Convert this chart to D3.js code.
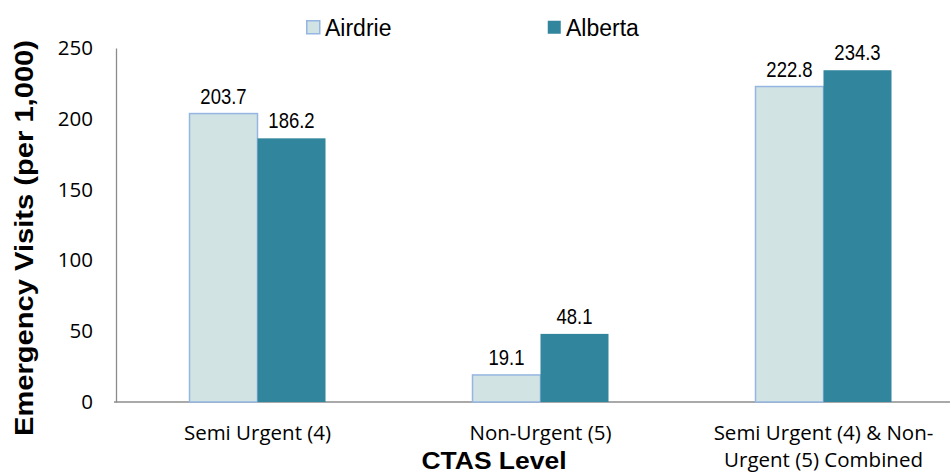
<!DOCTYPE html>
<html>
<head>
<meta charset="utf-8">
<script src="https://cdn.jsdelivr.net/npm/d3@7"></script>
<style>
  body { margin: 0; background: #fff; }
  svg { display: block; }
</style>
</head>
<body>
<div id="chart"></div>
<script>
  // chart values
  var categories = [
    ['Semi Urgent (4)'],
    ['Non-Urgent (5)'],
    ['Semi Urgent (4) & Non-', 'Urgent (5) Combined']
  ];
  var seriesNames = ['Airdrie', 'Alberta'];
  var airdrie = [203.7, 19.1, 222.8];
  var alberta = [186.2, 48.1, 234.3];
  var yTicks = [0, 50, 100, 150, 200, 250];

  var colors = { Airdrie: '#d1e3e2', Alberta: '#31859c' };
  var strokes = { Airdrie: '#95b6e2', Alberta: '#31859c' };

  var width = 950, height = 473;
  var margin = { left: 116, top: 48, bottom: 71 };

  var svg = d3.select('#chart').append('svg')
    .attr('width', width)
    .attr('height', height);

  var x0 = d3.scaleBand()
    .domain(d3.range(categories.length))
    .range([margin.left, margin.left + 283 * 3]);

  var x1 = d3.scaleBand()
    .domain(seriesNames)
    .range([0, 136]);

  var y = d3.scaleLinear()
    .domain([0, 250])
    .range([height - margin.bottom, margin.top]);

  var rows = categories.map(function (c, i) {
    return { i: i, values: [
      { key: 'Airdrie', value: airdrie[i] },
      { key: 'Alberta', value: alberta[i] }
    ] };
  });

  // y axis
  var yAxis = svg.append('g')
    .attr('transform', 'translate(' + margin.left + ',0)')
    .call(d3.axisLeft(y).tickValues(yTicks).tickSize(0).tickPadding(23));
  yAxis.select('.domain').attr('stroke', '#8c8c8c').attr('stroke-width', 1.3);
  yAxis.selectAll('text')
    .style('font-family', '"Open Sans", sans-serif')
    .style('font-size', '20.5px')
    .attr('fill', '#000');

  // x axis line
  svg.append('line')
    .attr('x1', margin.left - 2).attr('x2', width)
    .attr('y1', y(0)).attr('y2', y(0))
    .attr('stroke', '#8c8c8c').attr('stroke-width', 1.3);

  // bars
  var groups = svg.selectAll('.cat')
    .data(rows)
    .enter().append('g')
    .attr('transform', function (d) {
      return 'translate(' + (x0(d.i) + x0.bandwidth() / 2 - 68) + ',0)';
    });

  groups.selectAll('rect')
    .data(function (d) { return d.values; })
    .enter().append('rect')
    .attr('x', function (d) { return x1(d.key); })
    .attr('width', x1.bandwidth())
    .attr('y', function (d) { return y(d.value); })
    .attr('height', function (d) { return y(0) - y(d.value); })
    .attr('fill', function (d) { return colors[d.key]; })
    .attr('stroke', function (d) { return strokes[d.key]; })
    .attr('stroke-width', function (d) { return d.key === 'Airdrie' ? 1.5 : 0; });

  groups.selectAll('.lbl')
    .data(function (d) { return d.values; })
    .enter().append('text')
    .attr('transform', function (d) {
      return 'translate(' + (x1(d.key) + x1.bandwidth() / 2) + ',' + (y(d.value) - 10) + ') scale(1,1.15)';
    })
    .attr('text-anchor', 'middle')
    .style('font-family', '"Liberation Sans", Arial, sans-serif')
    .style('font-size', '18.5px')
    .text(function (d) { return d.value.toFixed(1); });

  // category labels
  svg.selectAll('.catlbl')
    .data(rows)
    .enter().append('text')
    .attr('x', function (d) { return x0(d.i) + x0.bandwidth() / 2; })
    .attr('y', 440)
    .attr('text-anchor', 'middle')
    .style('font-family', '"Open Sans", sans-serif')
    .style('font-size', '20.5px')
    .each(function (d) {
      var t = d3.select(this);
      categories[d.i].forEach(function (line, k) {
        t.append('tspan')
          .attr('x', x0(d.i) + x0.bandwidth() / 2)
          .attr('dy', k === 0 ? 0 : 27)
          .text(line);
      });
    });

  // axis titles
  svg.append('text')
    .attr('x', 494).attr('y', 469)
    .attr('text-anchor', 'middle')
    .attr('textLength', 145)
    .attr('lengthAdjust', 'spacingAndGlyphs')
    .style('font-family', '"Liberation Sans", Arial, sans-serif')
    .style('font-weight', 'bold')
    .style('font-size', '24px')
    .text('CTAS Level');

  svg.append('text')
    .attr('transform', 'translate(33,238) rotate(-90)')
    .attr('text-anchor', 'middle')
    .attr('textLength', 396)
    .attr('lengthAdjust', 'spacingAndGlyphs')
    .style('font-family', '"Liberation Sans", Arial, sans-serif')
    .style('font-weight', 'bold')
    .style('font-size', '25px')
    .text('Emergency Visits (per 1,000)');

  // legend
  var legendX = [306, 547];
  var legend = svg.selectAll('.leg')
    .data(seriesNames)
    .enter().append('g')
    .attr('transform', function (d, i) { return 'translate(' + legendX[i] + ',20)'; });
  legend.append('rect')
    .attr('x', 0.75).attr('y', 0.75)
    .attr('width', 13).attr('height', 13)
    .attr('fill', function (d) { return colors[d]; })
    .attr('stroke', function (d) { return strokes[d]; })
    .attr('stroke-width', function (d) { return d === 'Airdrie' ? 1.5 : 0; });
  legend.append('text')
    .attr('x', 19).attr('y', 16)
    .style('font-family', '"Liberation Sans", Arial, sans-serif')
    .style('font-size', '23px')
    .text(function (d) { return d; });
</script>
</body>
</html>
